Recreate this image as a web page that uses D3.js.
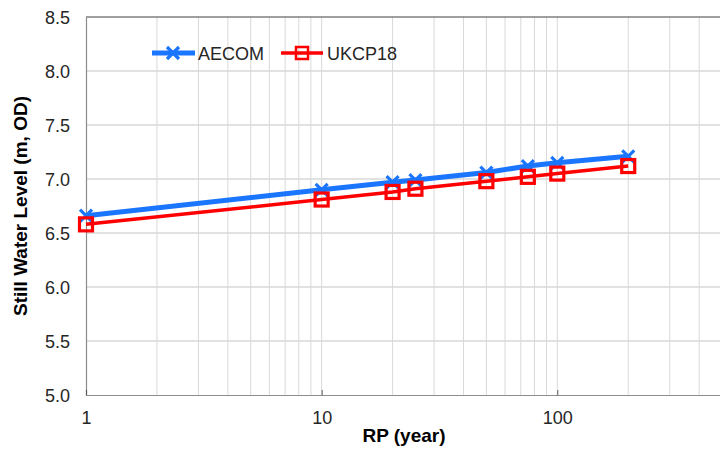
<!DOCTYPE html>
<html>
<head>
    <meta charset="utf-8">
    <script src="https://d3js.org/d3.v7.min.js"></script>
    <style type="text/css">
        body { margin: 0; background: #fff; }
        text { font-family: "Liberation Sans", Arial, sans-serif; }
    </style>
</head>
<body>
<script type="text/javascript">
    // return periods (years) and still water levels (m, OD)
    var rp = [1, 10, 20, 25, 50, 75, 100, 200];
    var aecom = [6.66, 6.90, 6.97, 6.99, 7.06, 7.12, 7.15, 7.21];
    var ukcp18 = [6.58, 6.81, 6.88, 6.91, 6.98, 7.02, 7.05, 7.12];
    var yTicks = [5.0, 5.5, 6.0, 6.5, 7.0, 7.5, 8.0, 8.5];
    var xTicks = [1, 10, 100];

    var W = 720, H = 450;
    var plotL = 86, plotR = 722, plotT = 17, plotB = 395;

    var svg = d3.select("body").append("svg")
        .attr("width", W).attr("height", H);

    var x = d3.scaleLog().domain([1, 500]).range([plotL, plotR]);
    var y = d3.scaleLinear().domain([5, 8.5]).range([plotB, plotT]);

    // minor / major vertical gridlines
    var gridX = [];
    [1, 10, 100].forEach(function(d) {
        for (var k = 1; k <= 9; k++) {
            if (d * k > 1 && d * k <= 500) gridX.push(d * k);
        }
    });
    svg.append("g").selectAll("line").data(gridX).enter().append("line")
        .attr("x1", function(d) { return x(d); })
        .attr("x2", function(d) { return x(d); })
        .attr("y1", plotT).attr("y2", plotB)
        .style("stroke", "#d9d9d9").style("stroke-width", 1);

    svg.append("g").selectAll("line").data(yTicks.slice(1, -1)).enter().append("line")
        .attr("x1", plotL).attr("x2", plotR)
        .attr("y1", function(d) { return y(d); })
        .attr("y2", function(d) { return y(d); })
        .style("stroke", "#d9d9d9").style("stroke-width", 1.5);

    // top border
    svg.append("line").attr("x1", plotL).attr("x2", plotR)
        .attr("y1", plotT).attr("y2", plotT)
        .style("stroke", "#404040").style("stroke-width", 1.2);

    // axes
    var yAxis = svg.append("g").attr("transform", "translate(" + plotL + ",0)")
        .call(d3.axisLeft(y).tickValues(yTicks).tickFormat(d3.format(".1f")).tickSize(0).tickPadding(16));
    var xAxis = svg.append("g").attr("transform", "translate(0," + plotB + ")")
        .call(d3.axisBottom(x).tickValues(xTicks).tickFormat(d3.format("d")).tickSize(-5).tickPadding(16));
    [yAxis, xAxis].forEach(function(a) {
        a.select(".domain").style("stroke", "#8c8c8c").style("stroke-width", 1.2);
        a.selectAll(".tick line").style("stroke", "#595959");
        a.selectAll("text").style("font-size", "18px").style("fill", "#262626")
            .style("font-family", "'Liberation Sans', Arial, sans-serif");
    });
    yAxis.selectAll(".tick text").attr("dy", "0.35em");

    // axis titles
    svg.append("text")
        .attr("x", 404).attr("y", 442)
        .style("text-anchor", "middle").style("font-size", "19px")
        .style("font-weight", "bold").style("fill", "#000")
        .text("RP (year)");
    svg.append("text")
        .attr("transform", "translate(27," + ((plotT + plotB) / 2) + ") rotate(-90)")
        .style("text-anchor", "middle").style("font-size", "19px")
        .style("font-weight", "bold").style("fill", "#000")
        .text("Still Water Level (m, OD)");

    var blue = "#1a75ff", red = "#ff0000";
    var line = d3.line()
        .x(function(d) { return x(d[0]); })
        .y(function(d) { return y(d[1]); });

    function crossPath(cx, cy, s) {
        return "M" + (cx - s) + "," + (cy - s) + "L" + (cx + s) + "," + (cy + s) +
               "M" + (cx + s) + "," + (cy - s) + "L" + (cx - s) + "," + (cy + s);
    }

    // AECOM series
    var aData = d3.zip(rp, aecom);
    svg.append("path").datum(aData).attr("d", line)
        .style("fill", "none").style("stroke", blue).style("stroke-width", 5);
    svg.append("g").selectAll("path").data(aData).enter().append("path")
        .attr("d", function(d) { return crossPath(x(d[0]), y(d[1]), 6); })
        .style("stroke", blue).style("stroke-width", 3.2).style("fill", "none");

    // UKCP18 series
    var uData = d3.zip(rp, ukcp18);
    svg.append("path").datum(uData).attr("d", line)
        .style("fill", "none").style("stroke", red).style("stroke-width", 3.5);
    svg.append("g").selectAll("rect").data(uData).enter().append("rect")
        .attr("x", function(d) { return x(d[0]) - 6.5; })
        .attr("y", function(d) { return y(d[1]) - 6.5; })
        .attr("width", 13).attr("height", 13)
        .style("stroke", red).style("stroke-width", 3.2).style("fill", "none");

    // legend
    var lg = svg.append("g");
    lg.append("line").attr("x1", 152).attr("x2", 195).attr("y1", 53).attr("y2", 53)
        .style("stroke", blue).style("stroke-width", 5);
    lg.append("path").attr("d", crossPath(173, 53, 6))
        .style("stroke", blue).style("stroke-width", 3.2).style("fill", "none");
    lg.append("text").attr("x", 198).attr("y", 60).style("font-size", "18px")
        .style("fill", "#262626").text("AECOM");

    lg.append("line").attr("x1", 281).attr("x2", 323).attr("y1", 53).attr("y2", 53)
        .style("stroke", red).style("stroke-width", 3.5);
    lg.append("rect").attr("x", 296).attr("y", 47).attr("width", 12).attr("height", 12)
        .style("stroke", red).style("stroke-width", 2.5).style("fill", "none");
    lg.append("text").attr("x", 327).attr("y", 60).style("font-size", "18px")
        .style("fill", "#262626").text("UKCP18");
</script>
</body>
</html>
